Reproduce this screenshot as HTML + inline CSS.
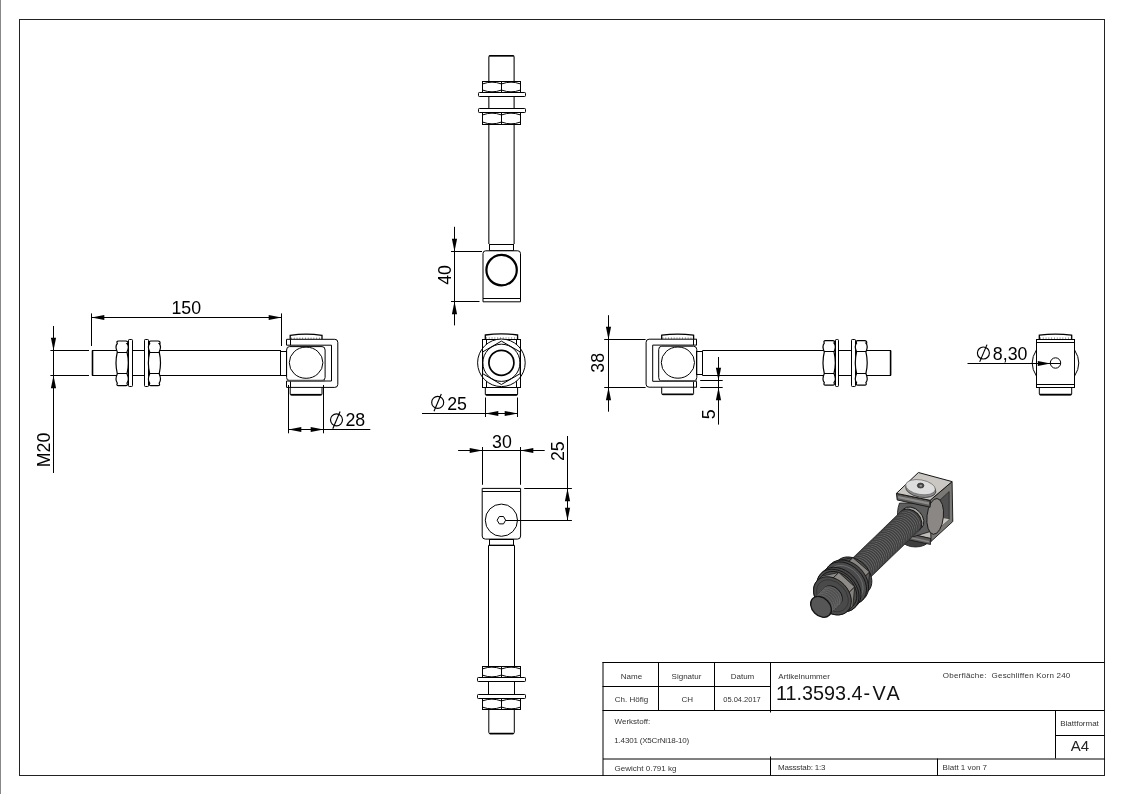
<!DOCTYPE html>
<html><head><meta charset="utf-8"><style>
html,body{margin:0;padding:0;background:#fff;}
body{width:1123px;height:794px;overflow:hidden;}
svg{display:block;font-family:"Liberation Sans",sans-serif;will-change:transform;}
</style></head><body>
<svg width="1123" height="794" viewBox="0 0 1123 794">
<line x1="0.5" y1="0" x2="0.5" y2="794" stroke="#888" stroke-width="1"/>
<rect x="19.5" y="19.5" width="1085.0" height="756.0" rx="0" stroke="#222" stroke-width="1" fill="none"/>
<path d="M488.85,244 L488.85,57 Q488.85,55.6 490.3,55.6 L512.7,55.6 Q514.1,55.6 514.1,57 L514.1,244" stroke="#000" stroke-width="1.05" fill="none"/>
<line x1="489.5" y1="55.8" x2="513.5" y2="55.8" stroke="#000" stroke-width="1.5"/>
<rect x="482.5" y="81.5" width="38.0" height="11.0" rx="0" stroke="#000" stroke-width="1" fill="#fff"/>
<line x1="501.5" y1="81" x2="501.5" y2="92" stroke="#000" stroke-width="1"/>
<path d="M483.0,83.8 Q492.0,80.5 501.0,83.8" stroke="#000" stroke-width="1.0" fill="none"/>
<path d="M483.0,90.2 Q492.0,93.5 501.0,90.2" stroke="#000" stroke-width="1.0" fill="none"/>
<path d="M502.0,83.8 Q511.0,80.5 520.0,83.8" stroke="#000" stroke-width="1.0" fill="none"/>
<path d="M502.0,90.2 Q511.0,93.5 520.0,90.2" stroke="#000" stroke-width="1.0" fill="none"/>
<rect x="478.5" y="92.5" width="47.0" height="4.0" rx="0.8" stroke="#000" stroke-width="1" fill="#fff"/>
<rect x="478.5" y="108.5" width="47.0" height="4.0" rx="0.8" stroke="#000" stroke-width="1" fill="#fff"/>
<rect x="482.5" y="112.5" width="38.0" height="12.0" rx="0" stroke="#000" stroke-width="1" fill="#fff"/>
<line x1="501.5" y1="112.7" x2="501.5" y2="124.2" stroke="#000" stroke-width="1"/>
<path d="M483.0,114.8 Q492.0,111.5 501.0,114.8" stroke="#000" stroke-width="1.0" fill="none"/>
<path d="M483.0,122.2 Q492.0,125.5 501.0,122.2" stroke="#000" stroke-width="1.0" fill="none"/>
<path d="M502.0,114.8 Q511.0,111.5 520.0,114.8" stroke="#000" stroke-width="1.0" fill="none"/>
<path d="M502.0,122.2 Q511.0,125.5 520.0,122.2" stroke="#000" stroke-width="1.0" fill="none"/>
<rect x="489.5" y="244.5" width="24.0" height="6.0" rx="0" stroke="#000" stroke-width="1" fill="none"/>
<path d="M483,301.8 L483,253.5 Q483,250.8 485.7,250.8 L517.8,250.8 Q520.5,250.8 520.5,253.5 L520.5,301.8 Z" stroke="#000" stroke-width="1" fill="#fff"/>
<line x1="483" y1="298.5" x2="520.5" y2="298.5" stroke="#000" stroke-width="1"/>
<circle cx="501.6" cy="270.1" r="15.2" stroke="#000" stroke-width="2.2" fill="none"/>
<line x1="454.5" y1="226.8" x2="454.5" y2="325.4" stroke="#000" stroke-width="1"/>
<line x1="451" y1="251.5" x2="482" y2="251.5" stroke="#000" stroke-width="1"/>
<line x1="451" y1="301.5" x2="479.5" y2="301.5" stroke="#000" stroke-width="1"/>
<path d="M454.5,251.5 L451.90,238.70 L457.10,238.70 Z" fill="#000" stroke="none"/>
<path d="M454.5,301.5 L457.10,314.30 L451.90,314.30 Z" fill="#000" stroke="none"/>
<text x="451" y="274.9" font-size="17.8" text-anchor="middle" fill="#000" transform="rotate(-90 451 274.9)" >40</text>
<line x1="92" y1="350.5" x2="281" y2="350.5" stroke="#000" stroke-width="1"/>
<line x1="92" y1="375.5" x2="281" y2="375.5" stroke="#000" stroke-width="1"/>
<line x1="92.5" y1="350.5" x2="92.5" y2="375.5" stroke="#000" stroke-width="1.6"/>
<rect x="280.5" y="351.5" width="6.0" height="24.0" rx="0" stroke="#000" stroke-width="1" fill="none"/>
<path d="M118.5,341 L125.8,341 Q128.2,341 127.8,343.5 L127,343.5 Q129.6,346.5 127,352 L127,352 Q129.6,362.9 127,373.8 L127,373.8 Q129.6,379.75 127,383.2 Q128.2,385.7 125.8,385.7 L118.5,385.7 Q116.1,385.7 117.3,383.2 L117.3,383.2 Q114.7,379.75 117.3,373.8 L117.3,373.8 Q114.7,362.9 117.3,352 L117.3,352 Q114.7,346.5 117.3,343.5 Q116.1,341 118.5,341 Z" stroke="#000" stroke-width="1.2" fill="#fff"/>
<line x1="117.1" y1="352.5" x2="127.2" y2="352.5" stroke="#000" stroke-width="1"/>
<line x1="117.1" y1="373.5" x2="127.2" y2="373.5" stroke="#000" stroke-width="1"/>
<rect x="128.5" y="339.5" width="4.0" height="47.0" rx="0.8" stroke="#000" stroke-width="1" fill="#fff"/>
<rect x="144.5" y="339.5" width="4.0" height="47.0" rx="0.8" stroke="#000" stroke-width="1" fill="#fff"/>
<path d="M150.89999999999998,341 L158.0,341 Q160.39999999999998,341 160.0,343.5 L159.2,343.5 Q161.79999999999998,346.5 159.2,352 L159.2,352 Q161.79999999999998,362.9 159.2,373.8 L159.2,373.8 Q161.79999999999998,379.75 159.2,383.2 Q160.39999999999998,385.7 158.0,385.7 L150.89999999999998,385.7 Q148.5,385.7 149.7,383.2 L149.7,383.2 Q147.1,379.75 149.7,373.8 L149.7,373.8 Q147.1,362.9 149.7,352 L149.7,352 Q147.1,346.5 149.7,343.5 Q148.5,341 150.89999999999998,341 Z" stroke="#000" stroke-width="1.2" fill="#fff"/>
<line x1="149.5" y1="352.5" x2="159.39999999999998" y2="352.5" stroke="#000" stroke-width="1"/>
<line x1="149.5" y1="373.5" x2="159.39999999999998" y2="373.5" stroke="#000" stroke-width="1"/>
<path d="M286.6,339.3 L334.8,339.3 Q337.8,339.3 337.8,342.3 L337.8,384.4 Q337.8,387.4 334.8,387.4 L286.6,387.4" stroke="#000" stroke-width="1" fill="none"/>
<path d="M286.6,345.2 L331.5,345.2 L331.5,381 L286.6,381" stroke="#000" stroke-width="1" fill="none"/>
<line x1="286.5" y1="339.3" x2="286.5" y2="345.2" stroke="#000" stroke-width="1"/>
<line x1="290.5" y1="339.3" x2="290.5" y2="345.2" stroke="#000" stroke-width="1"/>
<line x1="286.5" y1="381" x2="286.5" y2="387.4" stroke="#000" stroke-width="1"/>
<line x1="290.5" y1="381" x2="290.5" y2="387.4" stroke="#000" stroke-width="1"/>
<path d="M290.2,339.3 L290.2,335.3 Q306,333 322,335.3 L322,339.3" stroke="#000" stroke-width="1.3" fill="none"/>
<line x1="291" y1="338.2" x2="321.5" y2="338.2" stroke="#000" stroke-width="0.75" stroke-dasharray="0.9 1.9"/>
<path d="M290.2,387.4 L290.2,394 Q290.2,395.1 291.5,395.1 L320.7,395.1 Q322,395.1 322,394 L322,387.4" stroke="#000" stroke-width="1" fill="none"/>
<line x1="290.6" y1="394.6" x2="321.6" y2="394.6" stroke="#000" stroke-width="1.4"/>
<path d="M289.5,346.6 L322,346.6 Q325.1,346.6 325.1,350 L325.1,377.5 Q325.1,380.6 322,380.6 L289.5,380.6 Q286.6,380.6 286.6,377.5 L286.6,350 Q286.6,346.6 289.5,346.6 Z" stroke="#000" stroke-width="1" fill="none"/>
<ellipse cx="306.1" cy="362.7" rx="16.8" ry="15.6" stroke="#000" stroke-width="1" fill="none"/>
<line x1="288.3" y1="380.6" x2="325" y2="380.6" stroke="#555" stroke-width="1.6"/>
<line x1="91.5" y1="313.4" x2="91.5" y2="346" stroke="#000" stroke-width="1"/>
<line x1="281.5" y1="313.4" x2="281.5" y2="346" stroke="#000" stroke-width="1"/>
<line x1="91.5" y1="317.5" x2="281" y2="317.5" stroke="#000" stroke-width="1"/>
<path d="M91.5,317.5 L104.30,314.90 L104.30,320.10 Z" fill="#000" stroke="none"/>
<path d="M281.5,317.5 L268.70,320.10 L268.70,314.90 Z" fill="#000" stroke="none"/>
<text x="186.3" y="313.6" font-size="17.8" text-anchor="middle" fill="#000" >150</text>
<line x1="50.4" y1="350.5" x2="89" y2="350.5" stroke="#000" stroke-width="1"/>
<line x1="50.4" y1="375.5" x2="89" y2="375.5" stroke="#000" stroke-width="1"/>
<line x1="53.5" y1="326" x2="53.5" y2="473" stroke="#000" stroke-width="1"/>
<path d="M53.5,350.5 L50.90,337.70 L56.10,337.70 Z" fill="#000" stroke="none"/>
<path d="M53.5,375.5 L56.10,388.30 L50.90,388.30 Z" fill="#000" stroke="none"/>
<text x="50.2" y="449.9" font-size="17.8" text-anchor="middle" fill="#000" transform="rotate(-90 50.2 449.9)" >M20</text>
<line x1="288.5" y1="385" x2="288.5" y2="433.3" stroke="#000" stroke-width="1"/>
<line x1="323.5" y1="385" x2="323.5" y2="433.3" stroke="#000" stroke-width="1"/>
<line x1="288.3" y1="429.5" x2="370.3" y2="429.5" stroke="#000" stroke-width="1"/>
<path d="M288.5,429.5 L301.30,426.90 L301.30,432.10 Z" fill="#000" stroke="none"/>
<path d="M323.5,429.5 L310.70,432.10 L310.70,426.90 Z" fill="#000" stroke="none"/>
<circle cx="336.5" cy="419.8" r="6.0" stroke="#000" stroke-width="1.15" fill="none"/>
<line x1="332.8" y1="428.7" x2="340.1" y2="411.45" stroke="#000" stroke-width="1.15"/>
<text x="345.4" y="425.8" font-size="17.8" text-anchor="start" fill="#000" >28</text>
<rect x="482.5" y="339.5" width="38.0" height="48.0" rx="0" stroke="#000" stroke-width="1" fill="#fff"/>
<line x1="486.5" y1="339.1" x2="486.5" y2="387.6" stroke="#000" stroke-width="1"/>
<line x1="516.5" y1="339.1" x2="516.5" y2="387.6" stroke="#000" stroke-width="1"/>
<path d="M485.3,339.1 L485.3,335 Q501.4,332.8 517.6,335 L517.6,339.1" stroke="#000" stroke-width="1.3" fill="none"/>
<line x1="486" y1="338" x2="517" y2="338" stroke="#000" stroke-width="0.75" stroke-dasharray="0.9 1.9"/>
<path d="M485.3,387.6 L485.3,394.2 Q485.3,395.2 486.5,395.2 L516.4,395.2 Q517.6,395.2 517.6,394.2 L517.6,387.6" stroke="#000" stroke-width="1" fill="none"/>
<line x1="485.8" y1="394.7" x2="517.2" y2="394.7" stroke="#000" stroke-width="1.4"/>
<circle cx="501.4" cy="362.8" r="23.8" stroke="#000" stroke-width="1" fill="#fff"/>
<line x1="482.5" y1="339.1" x2="482.5" y2="387.6" stroke="#000" stroke-width="1"/>
<line x1="520.5" y1="339.1" x2="520.5" y2="387.6" stroke="#000" stroke-width="1"/>
<polygon points="501.40,384.50 482.61,373.65 482.61,351.95 501.40,341.10 520.19,351.95 520.19,373.65" stroke="#000" stroke-width="1" fill="none"/>
<circle cx="501.4" cy="362.8" r="18.6" stroke="#000" stroke-width="1" fill="none"/>
<circle cx="501.4" cy="362.8" r="12.5" stroke="#000" stroke-width="1.7" fill="none"/>
<line x1="485.5" y1="397.5" x2="485.5" y2="417" stroke="#000" stroke-width="1"/>
<line x1="517.5" y1="397.5" x2="517.5" y2="417" stroke="#000" stroke-width="1"/>
<line x1="422" y1="413.5" x2="517.6" y2="413.5" stroke="#000" stroke-width="1"/>
<path d="M485.5,413.5 L498.30,410.90 L498.30,416.10 Z" fill="#000" stroke="none"/>
<path d="M517.5,413.5 L504.70,416.10 L504.70,410.90 Z" fill="#000" stroke="none"/>
<circle cx="437.7" cy="402.4" r="6.0" stroke="#000" stroke-width="1.15" fill="none"/>
<line x1="434.0" y1="411.29999999999995" x2="441.3" y2="394.04999999999995" stroke="#000" stroke-width="1.15"/>
<text x="447.2" y="409.6" font-size="17.8" text-anchor="start" fill="#000" >25</text>
<line x1="702.3" y1="350.5" x2="891" y2="350.5" stroke="#000" stroke-width="1"/>
<line x1="702.3" y1="375.5" x2="891" y2="375.5" stroke="#000" stroke-width="1"/>
<line x1="890.6" y1="350.5" x2="890.6" y2="375.4" stroke="#000" stroke-width="1.6"/>
<rect x="696.5" y="351.5" width="6.0" height="23.0" rx="0" stroke="#000" stroke-width="1" fill="none"/>
<path d="M825.5,340.7 L832.8,340.7 Q835.2,340.7 834.8,343.2 L834,343.2 Q836.6,346.29999999999995 834,351.9 L834,351.9 Q836.6,362.7 834,373.5 L834,373.5 Q836.6,379.35 834,382.7 Q835.2,385.2 832.8,385.2 L825.5,385.2 Q823.0999999999999,385.2 824.3,382.7 L824.3,382.7 Q821.6999999999999,379.35 824.3,373.5 L824.3,373.5 Q821.6999999999999,362.7 824.3,351.9 L824.3,351.9 Q821.6999999999999,346.29999999999995 824.3,343.2 Q823.0999999999999,340.7 825.5,340.7 Z" stroke="#000" stroke-width="1.2" fill="#fff"/>
<line x1="824.0999999999999" y1="351.5" x2="834.2" y2="351.5" stroke="#000" stroke-width="1"/>
<line x1="824.0999999999999" y1="373.5" x2="834.2" y2="373.5" stroke="#000" stroke-width="1"/>
<rect x="835.5" y="339.5" width="3.0" height="47.0" rx="0.8" stroke="#000" stroke-width="1" fill="#fff"/>
<rect x="851.5" y="339.5" width="4.0" height="47.0" rx="0.8" stroke="#000" stroke-width="1" fill="#fff"/>
<path d="M857.8000000000001,340.7 L864.6999999999999,340.7 Q867.1,340.7 866.6999999999999,343.2 L865.9,343.2 Q868.5,346.29999999999995 865.9,351.9 L865.9,351.9 Q868.5,362.7 865.9,373.5 L865.9,373.5 Q868.5,379.35 865.9,382.7 Q867.1,385.2 864.6999999999999,385.2 L857.8000000000001,385.2 Q855.4,385.2 856.6,382.7 L856.6,382.7 Q854.0,379.35 856.6,373.5 L856.6,373.5 Q854.0,362.7 856.6,351.9 L856.6,351.9 Q854.0,346.29999999999995 856.6,343.2 Q855.4,340.7 857.8000000000001,340.7 Z" stroke="#000" stroke-width="1.2" fill="#fff"/>
<line x1="856.4" y1="351.5" x2="866.1" y2="351.5" stroke="#000" stroke-width="1"/>
<line x1="856.4" y1="373.5" x2="866.1" y2="373.5" stroke="#000" stroke-width="1"/>
<path d="M696.8,339.2 L649.1,339.2 Q646.1,339.2 646.1,342.2 L646.1,384.2 Q646.1,387.2 649.1,387.2 L696.8,387.2" stroke="#000" stroke-width="1" fill="none"/>
<path d="M696.8,345.1 L652.7,345.1 L652.7,381.3 L696.8,381.3" stroke="#000" stroke-width="1" fill="none"/>
<line x1="696.5" y1="339.2" x2="696.5" y2="345.1" stroke="#000" stroke-width="1"/>
<line x1="693.5" y1="339.2" x2="693.5" y2="345.1" stroke="#000" stroke-width="1"/>
<line x1="696.5" y1="381.3" x2="696.5" y2="387.2" stroke="#000" stroke-width="1"/>
<line x1="693.5" y1="381.3" x2="693.5" y2="387.2" stroke="#000" stroke-width="1"/>
<path d="M661.7,339.2 L661.7,335.2 Q677.6,332.9 693.6,335.2 L693.6,339.2" stroke="#000" stroke-width="1.3" fill="none"/>
<line x1="662.5" y1="338.1" x2="693" y2="338.1" stroke="#000" stroke-width="0.75" stroke-dasharray="0.9 1.9"/>
<path d="M661.7,387.2 L661.7,393.6 Q661.7,394.7 663,394.7 L692.3,394.7 Q693.6,394.7 693.6,393.6 L693.6,387.2" stroke="#000" stroke-width="1" fill="none"/>
<line x1="662.2" y1="394.2" x2="693.2" y2="394.2" stroke="#000" stroke-width="1.4"/>
<path d="M661.8,346.2 L693.4,346.2 Q696.8,346.2 696.8,349.6 L696.8,377.5 Q696.8,381 693.4,381 L661.8,381 Q658.7,381 658.7,377.5 L658.7,349.6 Q658.7,346.2 661.8,346.2 Z" stroke="#000" stroke-width="1" fill="none"/>
<ellipse cx="677.9" cy="362.6" rx="16.6" ry="15.6" stroke="#000" stroke-width="1" fill="none"/>
<line x1="659.5" y1="380.9" x2="696.5" y2="380.9" stroke="#555" stroke-width="1.6"/>
<line x1="608.5" y1="315.2" x2="608.5" y2="411.7" stroke="#000" stroke-width="1"/>
<line x1="604.2" y1="339.5" x2="645.6" y2="339.5" stroke="#000" stroke-width="1"/>
<line x1="604.2" y1="387.5" x2="645.6" y2="387.5" stroke="#000" stroke-width="1"/>
<path d="M608.5,339.5 L605.90,326.70 L611.10,326.70 Z" fill="#000" stroke="none"/>
<path d="M608.5,387.5 L611.10,400.30 L605.90,400.30 Z" fill="#000" stroke="none"/>
<text x="604.0" y="362.8" font-size="17.8" text-anchor="middle" fill="#000" transform="rotate(-90 604.0 362.8)" >38</text>
<line x1="718.5" y1="357" x2="718.5" y2="424.6" stroke="#000" stroke-width="1"/>
<line x1="700.2" y1="380.5" x2="722.7" y2="380.5" stroke="#000" stroke-width="1"/>
<line x1="700.2" y1="387.5" x2="722.7" y2="387.5" stroke="#000" stroke-width="1"/>
<path d="M718.5,380.5 L715.90,367.70 L721.10,367.70 Z" fill="#000" stroke="none"/>
<path d="M718.5,387.5 L721.10,400.30 L715.90,400.30 Z" fill="#000" stroke="none"/>
<text x="715.3" y="414.3" font-size="17.8" text-anchor="middle" fill="#000" transform="rotate(-90 715.3 414.3)" >5</text>
<path d="M1036.4,350 Q1028,363 1036.4,376" stroke="#000" stroke-width="1" fill="none"/>
<path d="M1074.6,350 Q1083,363 1074.6,376" stroke="#000" stroke-width="1" fill="none"/>
<rect x="1036.5" y="339.5" width="38.0" height="48.0" rx="0" stroke="#000" stroke-width="1" fill="#fff"/>
<line x1="1036.4" y1="342.5" x2="1074.6" y2="342.5" stroke="#000" stroke-width="1"/>
<line x1="1036.4" y1="384.5" x2="1074.6" y2="384.5" stroke="#000" stroke-width="1"/>
<path d="M1039.3,339.4 L1039.3,335.2 Q1055.5,332.9 1071.7,335.2 L1071.7,339.4" stroke="#000" stroke-width="1.3" fill="none"/>
<line x1="1040" y1="338.1" x2="1071" y2="338.1" stroke="#000" stroke-width="0.75" stroke-dasharray="0.9 1.9"/>
<path d="M1039.3,387.1 L1039.3,394 Q1039.3,395 1040.5,395 L1070.5,395 Q1071.7,395 1071.7,394 L1071.7,387.1" stroke="#000" stroke-width="1" fill="none"/>
<line x1="1039.8" y1="394.5" x2="1071.2" y2="394.5" stroke="#000" stroke-width="1.4"/>
<circle cx="1055.5" cy="363" r="5.2" stroke="#000" stroke-width="1" fill="none"/>
<line x1="1050.3" y1="363.5" x2="1060.5" y2="363.5" stroke="#000" stroke-width="1"/>
<line x1="967.5" y1="363.5" x2="1050.3" y2="363.5" stroke="#000" stroke-width="1"/>
<path d="M1050.5,363.5 L1037.80,365.90 L1037.80,361.10 Z" fill="#000" stroke="none"/>
<circle cx="983.4" cy="353" r="6.0" stroke="#000" stroke-width="1.15" fill="none"/>
<line x1="979.6999999999999" y1="361.9" x2="987.0" y2="344.65" stroke="#000" stroke-width="1.15"/>
<text x="992.8" y="360" font-size="17.8" text-anchor="start" fill="#000" >8,30</text>
<path d="M482.2,488.4 L520.6,488.4 L520.6,536 Q520.6,539.1 517.5,539.1 L485.3,539.1 Q482.2,539.1 482.2,536 Z" stroke="#000" stroke-width="1" fill="#fff"/>
<line x1="482.2" y1="491.5" x2="520.6" y2="491.5" stroke="#000" stroke-width="1"/>
<circle cx="501.4" cy="520.2" r="16.1" stroke="#000" stroke-width="1" fill="none"/>
<polygon points="505.65,520.20 503.52,523.88 499.27,523.88 497.15,520.20 499.27,516.52 503.52,516.52" stroke="#000" stroke-width="1" fill="none"/>
<rect x="489.5" y="539.5" width="24.0" height="6.0" rx="0" stroke="#000" stroke-width="1" fill="none"/>
<line x1="488.5" y1="545.3" x2="488.5" y2="666.4" stroke="#000" stroke-width="1"/>
<line x1="514.5" y1="545.3" x2="514.5" y2="666.4" stroke="#000" stroke-width="1"/>
<line x1="488.8" y1="545.3" x2="514.3" y2="545.3" stroke="#000" stroke-width="1.3"/>
<rect x="482.5" y="666.5" width="38.0" height="11.0" rx="0" stroke="#000" stroke-width="1" fill="#fff"/>
<line x1="501.5" y1="666.4" x2="501.5" y2="677.1" stroke="#000" stroke-width="1"/>
<path d="M482.7,668.8 Q491.82500000000005,665.5 500.95000000000005,668.8" stroke="#000" stroke-width="1.0" fill="none"/>
<path d="M482.7,675.2 Q491.82500000000005,678.5 500.95000000000005,675.2" stroke="#000" stroke-width="1.0" fill="none"/>
<path d="M501.95000000000005,668.8 Q511.07500000000005,665.5 520.2,668.8" stroke="#000" stroke-width="1.0" fill="none"/>
<path d="M501.95000000000005,675.2 Q511.07500000000005,678.5 520.2,675.2" stroke="#000" stroke-width="1.0" fill="none"/>
<rect x="477.5" y="677.5" width="48.0" height="4.0" rx="0.8" stroke="#000" stroke-width="1" fill="#fff"/>
<rect x="477.5" y="694.5" width="48.0" height="4.0" rx="0.8" stroke="#000" stroke-width="1" fill="#fff"/>
<rect x="482.5" y="698.5" width="38.0" height="11.0" rx="0" stroke="#000" stroke-width="1" fill="#fff"/>
<line x1="501.5" y1="698.4" x2="501.5" y2="709.4" stroke="#000" stroke-width="1"/>
<path d="M482.7,700.8 Q491.82500000000005,697.5 500.95000000000005,700.8" stroke="#000" stroke-width="1.0" fill="none"/>
<path d="M482.7,707.2 Q491.82500000000005,710.5 500.95000000000005,707.2" stroke="#000" stroke-width="1.0" fill="none"/>
<path d="M501.95000000000005,700.8 Q511.07500000000005,697.5 520.2,700.8" stroke="#000" stroke-width="1.0" fill="none"/>
<path d="M501.95000000000005,707.2 Q511.07500000000005,710.5 520.2,707.2" stroke="#000" stroke-width="1.0" fill="none"/>
<path d="M488.8,709.4 L488.8,732.3 Q488.8,733.8 490.3,733.8 L512.8,733.8 Q514.3,733.8 514.3,732.3 L514.3,709.4" stroke="#000" stroke-width="1" fill="none"/>
<line x1="489.5" y1="733.5" x2="513.5" y2="733.5" stroke="#000" stroke-width="1.5"/>
<line x1="488.5" y1="681.5" x2="488.5" y2="694.2" stroke="#000" stroke-width="1"/>
<line x1="514.5" y1="681.5" x2="514.5" y2="694.2" stroke="#000" stroke-width="1"/>
<line x1="482.5" y1="447" x2="482.5" y2="484.8" stroke="#000" stroke-width="1"/>
<line x1="520.5" y1="447" x2="520.5" y2="484.8" stroke="#000" stroke-width="1"/>
<line x1="458.1" y1="450.5" x2="544.7" y2="450.5" stroke="#000" stroke-width="1"/>
<path d="M482.5,450.5 L469.70,453.10 L469.70,447.90 Z" fill="#000" stroke="none"/>
<path d="M520.5,450.5 L533.30,447.90 L533.30,453.10 Z" fill="#000" stroke="none"/>
<text x="502" y="447.5" font-size="17.8" text-anchor="middle" fill="#000" >30</text>
<line x1="567.5" y1="436" x2="567.5" y2="520.2" stroke="#000" stroke-width="1"/>
<line x1="524.2" y1="488.5" x2="571.9" y2="488.5" stroke="#000" stroke-width="1"/>
<line x1="505.6" y1="520.5" x2="571.9" y2="520.5" stroke="#000" stroke-width="1"/>
<path d="M567.5,488.5 L570.10,501.30 L564.90,501.30 Z" fill="#000" stroke="none"/>
<path d="M567.5,520.5 L564.90,507.70 L570.10,507.70 Z" fill="#000" stroke="none"/>
<text x="564.4" y="451.2" font-size="17.8" text-anchor="middle" fill="#000" transform="rotate(-90 564.4 451.2)" >25</text>
<line x1="602.5" y1="662.5" x2="1104.5" y2="662.5" stroke="#000" stroke-width="1"/>
<line x1="603" y1="662" x2="603" y2="776" stroke="#000" stroke-width="1"/>
<line x1="602.5" y1="686.5" x2="770.5" y2="686.5" stroke="#000" stroke-width="1"/>
<line x1="602.5" y1="710.5" x2="1104.5" y2="710.5" stroke="#000" stroke-width="1"/>
<line x1="658.5" y1="662.5" x2="658.5" y2="710.5" stroke="#000" stroke-width="1"/>
<line x1="714.5" y1="662.5" x2="714.5" y2="710.5" stroke="#000" stroke-width="1"/>
<line x1="770.5" y1="662.5" x2="770.5" y2="712.5" stroke="#000" stroke-width="1"/>
<line x1="603" y1="759" x2="1105" y2="759" stroke="#000" stroke-width="1"/>
<line x1="770.5" y1="756.5" x2="770.5" y2="775.5" stroke="#000" stroke-width="1"/>
<line x1="937.5" y1="758.5" x2="937.5" y2="775.5" stroke="#000" stroke-width="1"/>
<line x1="1055.5" y1="710.5" x2="1055.5" y2="758.5" stroke="#000" stroke-width="1"/>
<line x1="1055.5" y1="735.5" x2="1104.5" y2="735.5" stroke="#000" stroke-width="1"/>
<text x="631.5" y="679" font-size="8" text-anchor="middle" fill="#333" >Name</text>
<text x="686.5" y="679" font-size="8" text-anchor="middle" fill="#333" >Signatur</text>
<text x="742.5" y="679" font-size="8" text-anchor="middle" fill="#333" >Datum</text>
<text x="631.5" y="702" font-size="8" text-anchor="middle" fill="#333" >Ch. H&#246;fig</text>
<text x="687.3" y="702" font-size="8" text-anchor="middle" fill="#333" >CH</text>
<text x="742" y="702" font-size="7.5" text-anchor="middle" fill="#333" >05.04.2017</text>
<text x="614.6" y="724" font-size="8" text-anchor="start" fill="#333" >Werkstoff:</text>
<text x="614.3" y="743" font-size="8" fill="#333" textLength="74.8" lengthAdjust="spacing">1.4301 (X5CrNi18-10)</text>
<text x="614.6" y="770.5" font-size="8" text-anchor="start" fill="#333" >Gewicht 0.791 kg</text>
<text x="778.3" y="678.5" font-size="8" text-anchor="start" fill="#333" >Artikelnummer</text>
<text x="942.8" y="678.3" font-size="8" fill="#333" textLength="127.5" lengthAdjust="spacing">Oberfl&#228;che:&#160;&#160;Geschliffen Korn 240</text>
<text x="1079.5" y="726.2" font-size="8" text-anchor="middle" fill="#333" >Blattformat</text>
<text x="778" y="770.3" font-size="8" fill="#333" textLength="47.5" lengthAdjust="spacing">Massstab: 1:3</text>
<text x="942.6" y="770.3" font-size="8" text-anchor="start" fill="#333" >Blatt 1 von 7</text>
<text x="776" y="699.9" font-size="19.8" fill="#111">11.3593.4<tspan dx="1" letter-spacing="2.3">-VA</tspan></text>
<text x="1080" y="751.4" font-size="15" text-anchor="middle" fill="#222" >A4</text>
<ellipse cx="915.5" cy="540.5" rx="13" ry="6.5" fill="#3e3e3e" stroke="#141414" stroke-width="0.8"/>
<polygon points="908.50,533.50 930.50,538.50 952.60,520.00 931.00,515.50" fill="#bfbbb7" stroke="#141414" stroke-width="0.8"/>
<polygon points="908.50,533.50 930.50,538.50 930.50,544.50 909.50,540.00" fill="#5c5c5c" stroke="#141414" stroke-width="0.8"/>
<polygon points="911.00,537.00 929.00,541.00 929.00,542.50 911.00,538.50" fill="#8a8784" stroke="none"/>
<polygon points="930.10,500.30 952.10,481.60 952.80,521.50 931.00,541.50" fill="#7a7875" stroke="#141414" stroke-width="0.9"/>
<polygon points="933.00,506.50 949.20,491.50 949.20,519.20 933.00,533.80" fill="#505050" stroke="#141414" stroke-width="0.6"/>
<polygon points="937.50,517.00 949.20,519.20 933.00,533.80 932.00,530.00" fill="#cbc7c3" stroke="none"/>
<path d="M899.5,503 Q896,512 898.5,524 Q902,536 914,536.5 L932,531 L933,503 Z" fill="#5e5e5e" stroke="#141414" stroke-width="0.8"/>
<ellipse cx="935.2" cy="516.4" rx="8.2" ry="18" transform="rotate(6 935.2 516.4)" fill="#8a8784" stroke="#141414" stroke-width="0.9"/>
<polygon points="896.40,493.40 930.10,500.30 930.10,507.20 897.20,500.00" fill="#5a5a5a" stroke="#141414" stroke-width="0.9"/>
<polygon points="898.20,496.00 929.00,502.30 929.00,504.80 898.20,498.30" fill="#8e8b88" stroke="none"/>
<polygon points="918.40,472.50 952.10,481.60 930.10,500.30 896.40,493.40" fill="#cac6c2" stroke="#141414" stroke-width="1"/>
<ellipse cx="920.8" cy="489.4" rx="15.3" ry="7.8" transform="rotate(10 920.8 489.4)" fill="#8c8c8c" stroke="#2a2a2a" stroke-width="0.7"/>
<ellipse cx="920.5" cy="487.2" rx="15" ry="7.3" transform="rotate(10 920.5 487.2)" fill="#dddddd" stroke="#555" stroke-width="0.6"/>
<ellipse cx="920.6" cy="485.6" rx="3.3" ry="2.5" fill="#4a4a4a" stroke="#222" stroke-width="0.6"/>
<ellipse cx="920.8" cy="485.8" rx="1.4" ry="1.0" fill="#9a9a9a" stroke="none"/>
<g transform="translate(821.0,606.85) rotate(-44)">
<path d="M127,-13.100000000000001 A9.83,13.100000000000001 0 0 1 127,13.100000000000001 L121,12.8 L121,-12.8 Z" fill="#a9a5a1" stroke="#141414" stroke-width="0.9"/>
<path d="M50,-12.8 L124.5,-12.8 A9.60,12.8 0 0 1 124.5,12.8 L50,12.8 A9.60,12.8 0 0 1 50,-12.8 Z" fill="#4c4c4c" stroke="#141414" stroke-width="1"/>
<path d="M53.00,-12.8 A9.60,12.8 0 0 1 53.00,12.8 M55.30,-12.8 A9.60,12.8 0 0 1 55.30,12.8 M57.60,-12.8 A9.60,12.8 0 0 1 57.60,12.8 M59.90,-12.8 A9.60,12.8 0 0 1 59.90,12.8 M62.20,-12.8 A9.60,12.8 0 0 1 62.20,12.8 M64.50,-12.8 A9.60,12.8 0 0 1 64.50,12.8 M66.80,-12.8 A9.60,12.8 0 0 1 66.80,12.8 M69.10,-12.8 A9.60,12.8 0 0 1 69.10,12.8 M71.40,-12.8 A9.60,12.8 0 0 1 71.40,12.8 M73.70,-12.8 A9.60,12.8 0 0 1 73.70,12.8 M76.00,-12.8 A9.60,12.8 0 0 1 76.00,12.8 M78.30,-12.8 A9.60,12.8 0 0 1 78.30,12.8 M80.60,-12.8 A9.60,12.8 0 0 1 80.60,12.8 M82.90,-12.8 A9.60,12.8 0 0 1 82.90,12.8 M85.20,-12.8 A9.60,12.8 0 0 1 85.20,12.8 M87.50,-12.8 A9.60,12.8 0 0 1 87.50,12.8 M89.80,-12.8 A9.60,12.8 0 0 1 89.80,12.8 M92.10,-12.8 A9.60,12.8 0 0 1 92.10,12.8 M94.40,-12.8 A9.60,12.8 0 0 1 94.40,12.8 M96.70,-12.8 A9.60,12.8 0 0 1 96.70,12.8 M99.00,-12.8 A9.60,12.8 0 0 1 99.00,12.8 M101.30,-12.8 A9.60,12.8 0 0 1 101.30,12.8 M103.60,-12.8 A9.60,12.8 0 0 1 103.60,12.8 M105.90,-12.8 A9.60,12.8 0 0 1 105.90,12.8 M108.20,-12.8 A9.60,12.8 0 0 1 108.20,12.8 M110.50,-12.8 A9.60,12.8 0 0 1 110.50,12.8 M112.80,-12.8 A9.60,12.8 0 0 1 112.80,12.8 M115.10,-12.8 A9.60,12.8 0 0 1 115.10,12.8 M117.40,-12.8 A9.60,12.8 0 0 1 117.40,12.8 M119.70,-12.8 A9.60,12.8 0 0 1 119.70,12.8 M122.00,-12.8 A9.60,12.8 0 0 1 122.00,12.8" fill="none" stroke="#666666" stroke-width="0.9"/>
<path d="M54.15,-12.8 A9.60,12.8 0 0 1 54.15,12.8 M56.45,-12.8 A9.60,12.8 0 0 1 56.45,12.8 M58.75,-12.8 A9.60,12.8 0 0 1 58.75,12.8 M61.05,-12.8 A9.60,12.8 0 0 1 61.05,12.8 M63.35,-12.8 A9.60,12.8 0 0 1 63.35,12.8 M65.65,-12.8 A9.60,12.8 0 0 1 65.65,12.8 M67.95,-12.8 A9.60,12.8 0 0 1 67.95,12.8 M70.25,-12.8 A9.60,12.8 0 0 1 70.25,12.8 M72.55,-12.8 A9.60,12.8 0 0 1 72.55,12.8 M74.85,-12.8 A9.60,12.8 0 0 1 74.85,12.8 M77.15,-12.8 A9.60,12.8 0 0 1 77.15,12.8 M79.45,-12.8 A9.60,12.8 0 0 1 79.45,12.8 M81.75,-12.8 A9.60,12.8 0 0 1 81.75,12.8 M84.05,-12.8 A9.60,12.8 0 0 1 84.05,12.8 M86.35,-12.8 A9.60,12.8 0 0 1 86.35,12.8 M88.65,-12.8 A9.60,12.8 0 0 1 88.65,12.8 M90.95,-12.8 A9.60,12.8 0 0 1 90.95,12.8 M93.25,-12.8 A9.60,12.8 0 0 1 93.25,12.8 M95.55,-12.8 A9.60,12.8 0 0 1 95.55,12.8 M97.85,-12.8 A9.60,12.8 0 0 1 97.85,12.8 M100.15,-12.8 A9.60,12.8 0 0 1 100.15,12.8 M102.45,-12.8 A9.60,12.8 0 0 1 102.45,12.8 M104.75,-12.8 A9.60,12.8 0 0 1 104.75,12.8 M107.05,-12.8 A9.60,12.8 0 0 1 107.05,12.8 M109.35,-12.8 A9.60,12.8 0 0 1 109.35,12.8 M111.65,-12.8 A9.60,12.8 0 0 1 111.65,12.8 M113.95,-12.8 A9.60,12.8 0 0 1 113.95,12.8 M116.25,-12.8 A9.60,12.8 0 0 1 116.25,12.8 M118.55,-12.8 A9.60,12.8 0 0 1 118.55,12.8 M120.85,-12.8 A9.60,12.8 0 0 1 120.85,12.8 M123.15,-12.8 A9.60,12.8 0 0 1 123.15,12.8" fill="none" stroke="#363636" stroke-width="0.7"/>
<polygon points="44.40,-21.50 47.20,-21.17 49.92,-20.20 52.46,-18.62 54.76,-16.47 56.75,-13.82 58.36,-10.75 59.55,-7.35 60.28,-3.73 60.52,0.00 60.28,3.73 59.55,7.35 58.36,10.75 56.75,13.82 54.76,16.47 52.46,18.62 49.92,20.20 47.20,21.17 44.40,21.50 36.80,21.50 34.00,21.17 31.28,20.20 28.74,18.62 26.44,16.47 24.45,13.82 22.84,10.75 21.65,7.35 20.92,3.73 20.67,0.00 20.92,-3.73 21.65,-7.35 22.84,-10.75 24.45,-13.82 26.44,-16.47 28.74,-18.62 31.28,-20.20 34.00,-21.17" fill="#4a4a4a" stroke="#141414" stroke-width="0.9"/>
<polygon points="36.80,-21.50 49.51,-13.24 57.11,-13.24 44.40,-21.50" fill="#4e4c4a" stroke="#141414" stroke-width="0.7"/>
<polygon points="49.51,-13.24 51.53,8.74 59.13,8.74 57.11,-13.24" fill="#8a8682" stroke="#141414" stroke-width="0.7"/>
<polygon points="51.53,8.74 36.80,21.50 44.40,21.50 59.13,8.74" fill="#625f5c" stroke="#141414" stroke-width="0.7"/>
<ellipse cx="36.8" cy="0" rx="16.12" ry="21.5" fill="#4a4a4a" stroke="#141414" stroke-width="0.9"/>
<path d="M34,-24 L36.8,-24 A18.00,24 0 0 1 36.8,24 L34,24 A18.00,24 0 0 1 34,-24 Z" fill="#474747" stroke="#141414" stroke-width="0.9"/>
<ellipse cx="34" cy="0" rx="18.00" ry="24" fill="#4a4a4a" stroke="#141414" stroke-width="0.9"/>
<ellipse cx="34" cy="0" rx="15.0" ry="20" fill="none" stroke="#7a7a7a" stroke-width="0.7"/>
<path d="M26.3,-12.5 L34,-12.5 A9.38,12.5 0 0 1 34,12.5 L26.3,12.5 A9.38,12.5 0 0 1 26.3,-12.5 Z" fill="#4c4c4c" stroke="#141414" stroke-width="0.8"/>
<path d="M23.5,-24 L26.3,-24 A18.00,24 0 0 1 26.3,24 L23.5,24 A18.00,24 0 0 1 23.5,-24 Z" fill="#474747" stroke="#141414" stroke-width="0.9"/>
<ellipse cx="23.5" cy="0" rx="18.00" ry="24" fill="#4a4a4a" stroke="#141414" stroke-width="0.9"/>
<ellipse cx="23.5" cy="0" rx="15.375" ry="20.5" fill="none" stroke="#7a7a7a" stroke-width="0.7"/>
<polygon points="23.50,-21.50 26.30,-21.17 29.02,-20.20 31.56,-18.62 33.86,-16.47 35.85,-13.82 37.46,-10.75 38.65,-7.35 39.38,-3.73 39.62,0.00 39.38,3.73 38.65,7.35 37.46,10.75 35.85,13.82 33.86,16.47 31.56,18.62 29.02,20.20 26.30,21.17 23.50,21.50 15.90,21.50 13.10,21.17 10.38,20.20 7.84,18.62 5.54,16.47 3.55,13.82 1.94,10.75 0.75,7.35 0.02,3.73 -0.22,0.00 0.02,-3.73 0.75,-7.35 1.94,-10.75 3.55,-13.82 5.54,-16.47 7.84,-18.62 10.38,-20.20 13.10,-21.17" fill="#4b4b4b" stroke="#141414" stroke-width="0.9"/>
<polygon points="14.49,-21.42 29.11,-12.33 36.71,-12.33 22.09,-21.42" fill="#8c8884" stroke="#141414" stroke-width="0.7"/>
<polygon points="29.11,-12.33 30.51,9.09 38.11,9.09 36.71,-12.33" fill="#8f8b87" stroke="#141414" stroke-width="0.7"/>
<polygon points="30.51,9.09 15.90,21.50 23.50,21.50 38.11,9.09" fill="#85817d" stroke="#141414" stroke-width="0.7"/>
<ellipse cx="15.9" cy="0" rx="16.12" ry="21.5" fill="#4b4b4b" stroke="#141414" stroke-width="0.9"/>
<ellipse cx="15.9" cy="0" rx="13.5" ry="18" fill="#4a4a4a" stroke="#2a2a2a" stroke-width="0.6"/>
<path d="M0,-11.3 L15.9,-11.3 A8.48,11.3 0 0 1 15.9,11.3 L0,11.3 A8.48,11.3 0 0 1 0,-11.3 Z" fill="#505050" stroke="#141414" stroke-width="0.9"/>
<path d="M2.50,-11.3 A8.48,11.3 0 0 1 2.50,11.3 M4.90,-11.3 A8.48,11.3 0 0 1 4.90,11.3 M7.30,-11.3 A8.48,11.3 0 0 1 7.30,11.3 M9.70,-11.3 A8.48,11.3 0 0 1 9.70,11.3 M12.10,-11.3 A8.48,11.3 0 0 1 12.10,11.3 M14.50,-11.3 A8.48,11.3 0 0 1 14.50,11.3" fill="none" stroke="#666666" stroke-width="0.9"/>
<ellipse cx="0" cy="0" rx="8.85" ry="11.8" fill="#565656" stroke="#141414" stroke-width="1.3"/>
</g>
</svg>
</body></html>
